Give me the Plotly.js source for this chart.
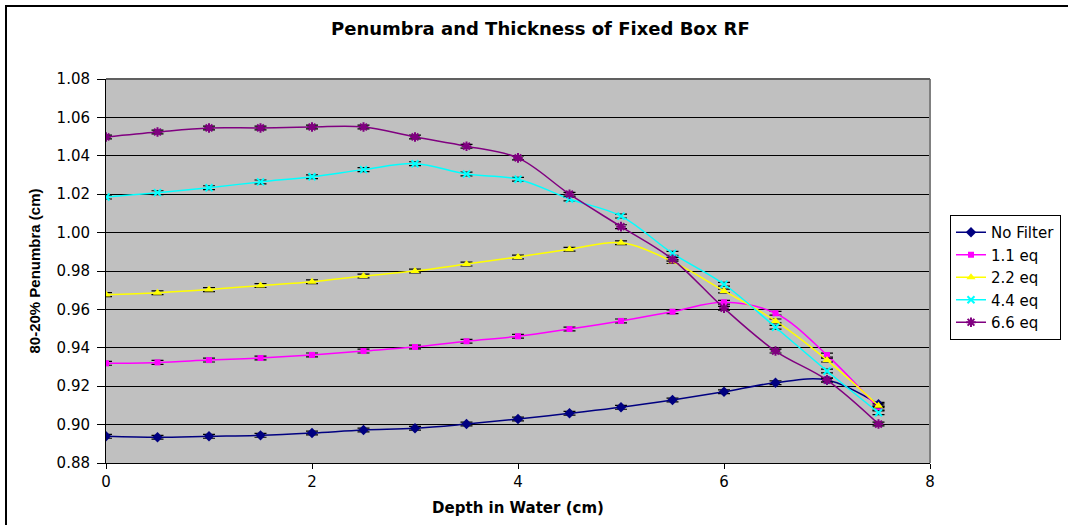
<!DOCTYPE html>
<html>
<head>
<meta charset="utf-8">
<script src="https://cdn.plot.ly/plotly-3.0.1.min.js"></script>
<style>
  html, body { margin: 0; padding: 0; overflow: hidden; background: #ffffff; }
  #frame { position: absolute; left: 5px; top: 5px; width: 1200px; height: 700px; border: 2px solid #000; }
  #chart { position: absolute; left: 0; top: 0; width: 1068px; height: 525px; }
</style>
</head>
<body>
<div id="frame"></div>
<div id="chart"></div>
<script>
const depth = [0, 0.5, 1, 1.5, 2, 2.5, 3, 3.5, 4, 4.5, 5, 5.5, 6, 6.5, 7, 7.5];

const noFilter = [0.8939, 0.8934, 0.8939, 0.8944, 0.8956, 0.8972, 0.8981, 0.9003, 0.9029, 0.9059, 0.9090, 0.9128, 0.9171, 0.9218, 0.9232, 0.9106];
const eq11     = [0.9319, 0.9324, 0.9336, 0.9347, 0.9363, 0.9383, 0.9404, 0.9434, 0.9460, 0.9498, 0.9540, 0.9588, 0.9637, 0.9580, 0.9362, 0.9085];
const eq22     = [0.9677, 0.9687, 0.9703, 0.9724, 0.9744, 0.9774, 0.9800, 0.9836, 0.9873, 0.9913, 0.9947, 0.9849, 0.9696, 0.9540, 0.9336, 0.9098];
const eq44     = [1.0185, 1.0208, 1.0234, 1.0264, 1.0291, 1.0328, 1.0359, 1.0305, 1.0278, 1.0175, 1.0086, 0.9892, 0.9731, 0.9507, 0.9279, 0.9062];
const eq66     = [1.0498, 1.0524, 1.0545, 1.0545, 1.0550, 1.0550, 1.0498, 1.0450, 1.0389, 1.0200, 1.0031, 0.9861, 0.9606, 0.9383, 0.9232, 0.9003];

const seriesNames = ["No Filter", "1.1 eq", "2.2 eq", "4.4 eq", "6.6 eq"];
const errSize = 0.001;

const seriesData = [noFilter, eq11, eq22, eq44, eq66];
const styles = [
  { color: "#000080", symbol: "diamond", size: 8, open: false },
  { color: "#FF00FF", symbol: "square", size: 6, open: false },
  { color: "#FFFF00", symbol: "triangle-up", size: 8, open: false },
  { color: "#00FFFF", symbol: "x-thin-open", size: 7, open: true },
  { color: "#800080", symbol: "asterisk-open", size: 8, open: true }
];

const traces = seriesData.map((ys, i) => {
  const s = styles[i];
  const marker = { symbol: s.symbol, size: s.size, color: s.color };
  marker.line = s.open ? { color: s.color, width: 2 } : { width: 0 };
  return {
    type: "scatter",
    mode: "lines+markers",
    name: seriesNames[i],
    x: depth,
    y: ys,
    line: { color: s.color, width: 1.5, shape: "spline", smoothing: 1 },
    marker: marker,
    error_y: { type: "constant", value: errSize, visible: true, color: "#000000", thickness: 1.2, width: 6 }
  };
});

const layout = {
  width: 1068,
  height: 525,
  margin: { l: 106, r: 138, t: 79, b: 62 },
  paper_bgcolor: "rgba(0,0,0,0)",
  plot_bgcolor: "#C0C0C0",
  showlegend: true,
  title: {
    text: "<b>Penumbra and Thickness of Fixed Box RF</b>",
    font: { family: "DejaVu Sans", size: 18, color: "#000" },
    x: 0.506, xanchor: "center", y: 0.945, yanchor: "middle"
  },
  xaxis: {
    range: [0, 8],
    dtick: 2,
    tick0: 0,
    showgrid: false,
    zeroline: false,
    showline: true,
    linecolor: "#000",
    linewidth: 1,
    ticks: "outside",
    ticklen: 5,
    tickcolor: "#000",
    tickfont: { family: "DejaVu Sans", size: 15, color: "#000" },
    title: { text: "<b>Depth in Water (cm)</b>", font: { family: "DejaVu Sans", size: 15, color: "#000" }, standoff: 12 }
  },
  yaxis: {
    range: [0.88, 1.08],
    dtick: 0.02,
    tick0: 0.88,
    tickformat: ".2f",
    showgrid: true,
    gridcolor: "#000",
    gridwidth: 1,
    zeroline: false,
    showline: true,
    linecolor: "#000",
    linewidth: 1,
    ticks: "outside",
    ticklen: 8,
    tickcolor: "#000",
    ticklabelstandoff: 4,
    tickfont: { family: "DejaVu Sans", size: 15, color: "#000" },
    title: { text: "<b>80-20% Penumbra (cm)</b>", font: { family: "Liberation Sans", size: 15, color: "#000" }, standoff: 12 }
  },
  legend: {
    xref: "container", yref: "container",
    x: 0.8895, xanchor: "left",
    y: 0.5905, yanchor: "top",
    bgcolor: "#ffffff",
    bordercolor: "#000",
    borderwidth: 1,
    font: { family: "DejaVu Sans", size: 15, color: "#000" },
    itemwidth: 30,
    tracegroupgap: 0
  },
  shapes: [
    { type: "line", xref: "paper", yref: "paper", x0: 1, x1: 1, y0: 0, y1: 1, line: { color: "#808080", width: 2 } },
    { type: "line", xref: "paper", yref: "paper", x0: 0, x1: 1, y0: 1, y1: 1, line: { color: "#606060", width: 2 } }
  ]
};

Plotly.newPlot("chart", traces, layout, { displayModeBar: false, staticPlot: true });
</script>
</body>
</html>
